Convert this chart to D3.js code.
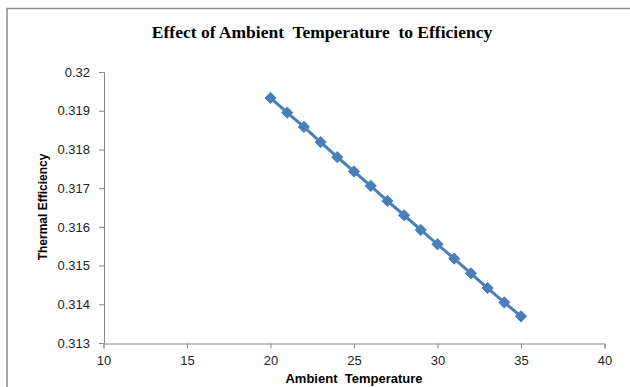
<!DOCTYPE html>
<html>
<head>
<meta charset="utf-8">
<script src="https://cdn.jsdelivr.net/npm/d3@7"></script>
<style>
  body { margin: 0; background: #fff; }
  svg { display: block; }
  .tick text { font-family: "Liberation Sans", Arial, sans-serif; font-size: 13px; fill: #222; }
</style>
</head>
<body>
<svg id="chart" width="630" height="387"></svg>
<script>
// ============================================================
// DATA
// ============================================================
const temps = [20, 21, 22, 23, 24, 25, 26, 27, 28, 29, 30, 31, 32, 33, 34, 35];
const efficiency = [0.31933, 0.31895, 0.31858, 0.31819, 0.31780, 0.31743, 0.31706, 0.31667,
  0.31630, 0.31592, 0.31555, 0.31518, 0.31480, 0.31442, 0.31405, 0.31369];
const xTicks = [10, 15, 20, 25, 30, 35, 40];
const yTicks = [0.313, 0.314, 0.315, 0.316, 0.317, 0.318, 0.319, 0.32];

// ============================================================
// SETUP
// ============================================================
const svg = d3.select('#chart');
const axisCol = '#868686';
const lineCol = '#4a7ebb';

// outer chart frame (runs off the right/bottom edges)
svg.append('path')
  .attr('d', 'M7,390 L7,8.5 L640,8.5')
  .attr('fill', 'none')
  .attr('stroke', '#8c8c8c')
  .attr('stroke-width', 1.5);

const x = d3.scaleLinear().domain([10, 40]).range([103.5, 604.5]);
const y = d3.scaleLinear().domain([0.313, 0.32]).range([343, 72]);

// ============================================================
// AXES
// ============================================================
const xAxis = svg.append('g')
  .attr('transform', 'translate(0,343.5)')
  .call(d3.axisBottom(x).tickValues(xTicks).tickSize(5).tickPadding(7).tickFormat(d3.format('d')));
const yAxis = svg.append('g')
  .attr('transform', 'translate(104,0)')
  .call(d3.axisLeft(y).tickValues(yTicks).tickSize(5).tickPadding(9).tickFormat(d => +d.toFixed(3)));

[xAxis, yAxis].forEach(g => {
  g.select('.domain').attr('stroke', axisCol);
  g.selectAll('.tick line').attr('stroke', axisCol);
});

// ============================================================
// SERIES
// ============================================================
const pts = temps.map((t, i) => [t, efficiency[i]]);
svg.append('path')
  .datum(pts)
  .attr('fill', 'none')
  .attr('stroke', lineCol)
  .attr('stroke-width', 3)
  .attr('d', d3.line().x(d => x(d[0])).y(d => y(d[1])));

svg.selectAll('.marker')
  .data(pts)
  .enter().append('path')
  .attr('class', 'marker')
  .attr('transform', d => `translate(${x(d[0])},${y(d[1])})`)
  .attr('d', d3.symbol().type(d3.symbolDiamond2).size(80))
  .attr('fill', lineCol)
  .attr('stroke', lineCol)
  .attr('stroke-width', 1);

// ============================================================
// TEXT
// ============================================================
svg.append('text')
  .attr('x', 322).attr('y', 38)
  .attr('text-anchor', 'middle')
  .style('font-family', '"Liberation Serif", "Times New Roman", serif')
  .style('font-weight', 'bold')
  .style('font-size', '17.5px')
  .attr('xml:space', 'preserve')
  .text('Effect of Ambient  Temperature  to Efficiency');

svg.append('text')
  .attr('x', 354).attr('y', 383)
  .attr('text-anchor', 'middle')
  .style('font-family', '"Liberation Sans", Arial, sans-serif')
  .style('font-weight', 'bold')
  .style('font-size', '13px')
  .attr('xml:space', 'preserve')
  .text('Ambient  Temperature');

svg.append('text')
  .attr('transform', 'translate(47,207) rotate(-90)')
  .attr('text-anchor', 'middle')
  .style('font-family', '"Liberation Sans", Arial, sans-serif')
  .style('font-weight', 'bold')
  .style('font-size', '12px')
  .text('Thermal Efficiency');
</script>
</body>
</html>
